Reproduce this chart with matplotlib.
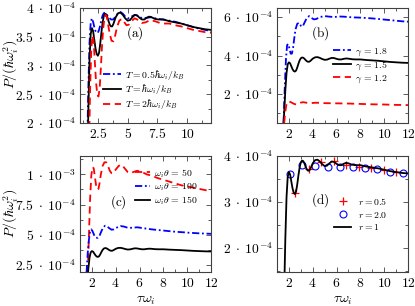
import matplotlib
matplotlib.use("Agg")
import matplotlib.pyplot as plt
from matplotlib.ticker import MultipleLocator, FixedLocator, FixedFormatter

plt.rcParams['mathtext.fontset'] = 'cm'
plt.rcParams['font.family'] = 'serif'
plt.rcParams['font.serif'] = ['DejaVu Serif']

x_base = [1.5, 1.6, 1.7, 1.8, 1.9, 2.0, 2.1, 2.2, 2.3, 2.4, 2.5, 2.6, 2.7, 2.8, 2.9, 3.0,
          3.1, 3.2, 3.3, 3.4, 3.5, 3.6, 3.7, 3.8, 3.9, 4.0, 4.2, 4.4, 4.6, 4.8, 5.0, 5.2,
          5.4, 5.6, 5.8, 6.0, 6.2, 6.4, 6.6, 6.8, 7.0, 7.3, 7.6, 8.0, 8.5, 9.0, 9.5, 10.0,
          10.5, 11.0, 11.5, 12.0]
y_base = [0.0, 1.0, 2.2, 3.1, 3.55, 3.65, 3.6, 3.45, 3.3, 3.2, 3.17, 3.22, 3.38, 3.58, 3.75, 3.86,
          3.9, 3.89, 3.84, 3.77, 3.71, 3.68, 3.68, 3.72, 3.78, 3.84, 3.91, 3.92, 3.88, 3.82, 3.78, 3.79,
          3.84, 3.88, 3.87, 3.83, 3.80, 3.80, 3.83, 3.85, 3.84, 3.81, 3.80, 3.80, 3.77, 3.75, 3.73, 3.70,
          3.67, 3.65, 3.63, 3.62]
xa_low = [1.6, 1.7, 1.8, 1.9, 2.0, 2.1, 2.2, 2.3, 2.4, 2.5, 2.6, 2.7, 2.8, 2.9, 3.0, 3.1, 3.2,
          3.4, 3.6, 3.8, 4.0, 4.2, 4.4, 4.6, 4.8, 5.0, 5.2, 5.4, 5.6, 5.8, 6.0, 6.3, 6.6, 7.0,
          7.5, 8.0, 8.5, 9.0, 9.5, 10.0, 10.5, 11.0, 11.5, 12.0]
ya_low = [1.6, 2.6, 3.4, 3.75, 3.82, 3.76, 3.67, 3.6, 3.57, 3.57, 3.62, 3.7, 3.8, 3.87, 3.91, 3.92, 3.9,
          3.84, 3.8, 3.8, 3.86, 3.91, 3.93, 3.9, 3.85, 3.82, 3.83, 3.86, 3.88, 3.87, 3.84, 3.82, 3.83, 3.84,
          3.81, 3.80, 3.78, 3.76, 3.73, 3.70, 3.67, 3.64, 3.62, 3.60]
xa_high = [1.75, 1.85, 1.95, 2.05, 2.15, 2.25, 2.35, 2.45, 2.55, 2.65, 2.75, 2.85, 2.95, 3.05, 3.15,
           3.25, 3.35, 3.5, 3.65, 3.8, 3.95, 4.1, 4.3, 4.5, 4.7, 4.9, 5.1, 5.3, 5.6, 5.9, 6.2, 6.5,
           6.9, 7.3, 7.7, 8.0, 8.5, 9.0, 9.5, 10.0, 10.5, 11.0, 11.5, 12.0]
ya_high = [1.5, 2.6, 3.3, 3.52, 3.4, 3.05, 2.7, 2.5, 2.46, 2.6, 2.95, 3.35, 3.65, 3.82, 3.88,
           3.85, 3.72, 3.55, 3.43, 3.42, 3.52, 3.66, 3.78, 3.81, 3.76, 3.70, 3.71, 3.77, 3.82, 3.79, 3.74, 3.75,
           3.79, 3.77, 3.74, 3.73, 3.73, 3.70, 3.68, 3.65, 3.62, 3.60, 3.58, 3.57]
xb_18 = [1.55, 1.65, 1.75, 1.85, 1.95, 2.05, 2.15, 2.25, 2.35, 2.45, 2.55, 2.7, 2.85, 3.0, 3.15,
         3.3, 3.5, 3.7, 3.9, 4.1, 4.3, 4.6, 5.0, 5.4, 5.8, 6.2, 6.6, 7.0, 7.5, 8.0, 8.5, 9.0,
         9.5, 10.0, 10.5, 11.0, 11.5, 12.0]
yb_18 = [0.5, 2.3, 3.8, 4.55, 4.6, 4.35, 4.1, 4.1, 4.4, 4.9, 5.35, 5.65, 5.7, 5.55, 5.5,
         5.7, 5.95, 6.05, 5.95, 5.88, 5.9, 6.0, 6.05, 6.02, 6.0, 6.03, 6.02, 6.0, 5.98, 5.97, 5.95, 5.93,
         5.9, 5.87, 5.84, 5.81, 5.78, 5.76]
xb_12 = [1.6, 1.7, 1.8, 1.9, 2.0, 2.2, 2.4, 2.6, 2.8, 3.0, 3.2, 3.5, 3.8, 4.2, 4.6, 5.0,
         6.0, 7.0, 8.0, 9.0, 10.0, 11.0, 12.0]
yb_12 = [0.5, 1.1, 1.5, 1.6, 1.62, 1.57, 1.5, 1.46, 1.5, 1.56, 1.58, 1.55, 1.53, 1.55, 1.55, 1.53,
         1.52, 1.51, 1.49, 1.47, 1.46, 1.44, 1.43]
xc_100 = [1.55, 1.65, 1.75, 1.85, 1.95, 2.05, 2.2, 2.35, 2.5, 2.65, 2.8, 2.95, 3.1, 3.25, 3.45,
          3.65, 3.85, 4.1, 4.4, 4.7, 5.0, 5.4, 5.8, 6.3, 7.0, 7.5, 8.0, 8.5, 9.0, 9.5, 10.0,
          10.5, 11.0, 11.5, 12.0]
yc_100 = [1.9, 3.5, 4.6, 5.3, 5.45, 5.3, 4.95, 4.75, 4.75, 4.95, 5.3, 5.6, 5.75, 5.72, 5.55,
          5.42, 5.45, 5.6, 5.72, 5.68, 5.58, 5.58, 5.62, 5.55, 5.45, 5.4, 5.35, 5.3, 5.25, 5.22, 5.18,
          5.15, 5.12, 5.1, 5.08]
xc_50 = [1.65, 1.75, 1.85, 1.95, 2.05, 2.15, 2.25, 2.35, 2.45, 2.55, 2.65, 2.75, 2.9, 3.05, 3.2,
         3.35, 3.5, 3.65, 3.8, 4.0, 4.25, 4.5, 4.75, 5.0, 5.25, 5.5, 5.8, 6.2, 6.6, 7.0, 7.5,
         8.0, 8.5, 9.0, 9.5, 10.0, 10.5, 11.0, 11.5, 12.0]
yc_50 = [1.9, 5.0, 8.0, 9.9, 10.6, 10.5, 9.8, 9.1, 8.75, 8.8, 9.3, 10.0, 10.7, 11.0, 11.0,
         10.7, 10.3, 10.1, 10.1, 10.4, 10.7, 10.8, 10.5, 10.2, 10.1, 10.2, 10.3, 10.2, 10.0, 9.9, 9.7,
         9.55, 9.4, 9.25, 9.1, 9.0, 8.9, 8.8, 8.7, 8.6]
xd_r05 = [2.55, 3.65, 4.7, 5.75, 6.8, 7.85, 8.9, 9.95, 11.0]
yd_r05 = [3.2, 3.72, 3.87, 3.9, 3.8, 3.77, 3.74, 3.70, 3.65]
xd_r20 = [2.05, 3.1, 4.2, 5.25, 6.3, 7.35, 8.4, 9.4, 10.45, 11.6]
yd_r20 = [3.61, 3.80, 3.78, 3.77, 3.77, 3.76, 3.73, 3.71, 3.66, 3.62]

scale = 1e-4

ticks_a = [2.0, 2.5, 3.0, 3.5, 4.0]
labels_a = [r'$2\;\cdot\;10^{-4}$', r'$2.5\;\cdot\;10^{-4}$', r'$3\;\cdot\;10^{-4}$', r'$3.5\;\cdot\;10^{-4}$', r'$4\;\cdot\;10^{-4}$']
ticks_b = [2.0, 4.0, 6.0]
labels_b = [r'$2\;\cdot\;10^{-4}$', r'$4\;\cdot\;10^{-4}$', r'$6\;\cdot\;10^{-4}$']
ticks_c = [2.5, 5.0, 7.5, 10.0]
labels_c = [r'$2.5\;\cdot\;10^{-4}$', r'$5\;\cdot\;10^{-4}$', r'$7.5\;\cdot\;10^{-4}$', r'$1\;\cdot\;10^{-3}$']
ticks_d = [2.0, 3.0, 4.0]
labels_d = [r'$2\;\cdot\;10^{-4}$', r'$3\;\cdot\;10^{-4}$', r'$4\;\cdot\;10^{-4}$']
xticks_a = [2.5, 5.0, 7.5, 10.0]
xlabels_a = [r'$2.5$', r'$5$', r'$7.5$', r'$10$']
xticks_n = [2, 4, 6, 8, 10, 12]
xlabels_n = [r'$2$', r'$4$', r'$6$', r'$8$', r'$10$', r'$12$']

def sc(v):
    return [u * scale for u in v]

W, H = 415, 306
fig = plt.figure(figsize=(W / 100, H / 100), dpi=100)

def mkax(l, t, r, b):
    return fig.add_axes([l / W, 1 - b / H, (r - l) / W, (b - t) / H])

axa = mkax(80, 8, 211, 123)
axb = mkax(277, 8, 408, 123)
axc = mkax(80, 156, 211, 272)
axd = mkax(277, 156, 408, 272)

BLUE = '#0000ff'
RED = '#ff0000'
LW = 1.3
TFS = 9.8
LFS = 7
frame_col = '#404040'
DASHDOT = (0, (4, 1.5, 1, 1.5))
DASHED = (0, (4, 2.5))

def style(ax, xt, xl, xminor, yt, yl, yminor, ylim):
    ax.set_xlim(1, 12)
    ax.set_ylim(ylim[0] * scale, ylim[1] * scale)
    ax.xaxis.set_major_locator(FixedLocator(xt))
    ax.xaxis.set_major_formatter(FixedFormatter(xl))
    ax.xaxis.set_minor_locator(MultipleLocator(xminor))
    ax.yaxis.set_major_locator(FixedLocator(sc(yt)))
    ax.yaxis.set_major_formatter(FixedFormatter(yl))
    ax.yaxis.set_minor_locator(MultipleLocator(yminor * scale))
    ax.tick_params(which='both', direction='in', top=True, right=True,
                   color=frame_col, width=0.6, labelsize=TFS, pad=3)
    ax.tick_params(which='major', length=3.5)
    ax.tick_params(which='minor', length=2)
    for s in ax.spines.values():
        s.set_color(frame_col)
        s.set_linewidth(0.8)

def place_legend(ax, x_px, y_px, **kw):
    # x_px: left end of the handles, y_px: centre of the middle row (pixels from top-left)
    bb = ax.get_position()
    fx = (x_px / W - bb.x0) / bb.width
    fy = ((1 - y_px / H) - bb.y0) / bb.height
    kw.setdefault('handletextpad', 0.5)
    return ax.legend(loc='center left', bbox_to_anchor=(fx, fy), frameon=False, fontsize=LFS,
                     borderpad=0, borderaxespad=0, **kw)

# (a)
axa.plot(xa_low, sc(ya_low), color=BLUE, lw=LW, ls=DASHDOT, label=r'$T = 0.5\hbar\omega_i/k_B$')
axa.plot(x_base, sc(y_base), color='black', lw=LW, label=r'$T = \hbar\omega_i/k_B$')
axa.plot(xa_high, sc(ya_high), color=RED, lw=LW, ls=DASHED, label=r'$T = 2\hbar\omega_i/k_B$')
style(axa, xticks_a, xlabels_a, 1.25, ticks_a, labels_a, 0.25, (2.0, 4.0))
axa.text(0.42, 0.78, r'$(\mathrm{a})$', transform=axa.transAxes, fontsize=9.5, ha='center', va='center')
place_legend(axa, 103, 89.5, handlelength=1.8, labelspacing=0.1)

# (b)
axb.plot(xb_18, sc(yb_18), color=BLUE, lw=LW, ls=DASHDOT, label=r'$\gamma\,=\,1.8$')
axb.plot(x_base, sc(y_base), color='black', lw=LW, label=r'$\gamma\,=\,1.5$')
axb.plot(xb_12, sc(yb_12), color=RED, lw=LW, ls=DASHED, label=r'$\gamma\,=\,1.2$')
style(axb, xticks_n, xlabels_n, 1, ticks_b, labels_b, 1.0, (0.5, 6.47))
axb.text(0.33, 0.78, r'$(\mathrm{b})$', transform=axb.transAxes, fontsize=9.5, ha='center', va='center')
place_legend(axb, 333, 65.5, handlelength=1.8, labelspacing=0.1)

# (c)
axc.plot(xc_50, sc(yc_50), color=RED, lw=LW, ls=DASHED, label=r'$\omega_i\theta\,=\,50$')
axc.plot(xc_100, sc(yc_100), color=BLUE, lw=LW, ls=DASHDOT, label=r'$\omega_i\theta\,=\,100$')
axc.plot(x_base, sc(y_base), color='black', lw=LW, label=r'$\omega_i\theta\,=\,150$')
style(axc, xticks_n, xlabels_n, 1, ticks_c, labels_c, 1.25, (1.92, 11.52))
axc.text(0.29, 0.606, r'$(\mathrm{c})$', transform=axc.transAxes, fontsize=9.5, ha='center', va='center')
place_legend(axc, 135, 187, handlelength=1.5, labelspacing=0.17)
axc.set_xlabel(r'$\tau\omega_i$', fontsize=10, labelpad=2)

# (d)
axd.plot(xd_r05, sc(yd_r05), ls='none', marker='+', ms=6, mew=0.9, color=RED, label=r'$r = 0.5$')
axd.plot(xd_r20, sc(yd_r20), ls='none', marker='o', ms=5, mew=0.8, mfc='none', mec=BLUE, label=r'$r = 2.0$')
axd.plot(x_base, sc(y_base), color='black', lw=LW, label=r'$r = 1$')
style(axd, xticks_n, xlabels_n, 1, ticks_d, labels_d, 0.5, (1.47, 4.0))
axd.text(0.33, 0.62, r'$(\mathrm{d})$', transform=axd.transAxes, fontsize=9.5, ha='center', va='center')
place_legend(axd, 334, 214, handlelength=1.75, handletextpad=0.75, labelspacing=0.27)
axd.set_xlabel(r'$\tau\omega_i$', fontsize=10, labelpad=2)

fig.text(11 / W, 1 - 64 / H, r'$P/(\hbar\omega_i^2)$', rotation=90, fontsize=10, ha='center', va='center')
fig.text(11 / W, 1 - 213 / H, r'$P/(\hbar\omega_i^2)$', rotation=90, fontsize=10, ha='center', va='center')

fig.savefig('out.png', dpi=100)
